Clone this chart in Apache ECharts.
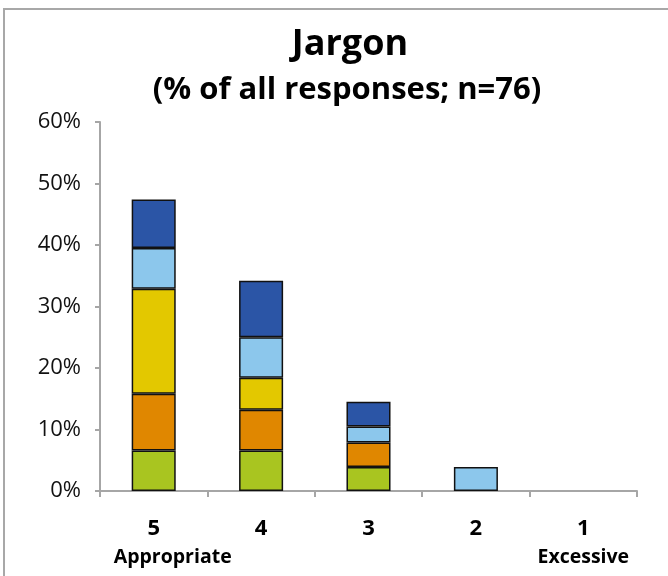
<!DOCTYPE html>
<html>
<head>
<meta charset="utf-8">
<script src="https://cdn.jsdelivr.net/npm/echarts@6/dist/echarts.min.js"></script>
<style>html,body{margin:0;padding:0;background:#fff}#c{width:668px;height:576px}</style>
</head>
<body>
<div id="c"></div>
<script>
var categories = ['5', '4', '3', '2', '1'];
var subLabels = ['Appropriate', '', '', '', 'Excessive'];
var yTicks = [0, 10, 20, 30, 40, 50, 60];
var green = [6.6, 6.6, 3.9, null, null];
var orange = [9.2, 6.6, 4.0, null, null];
var yellow = [17.1, 5.2, null, null, null];
var lightBlue = [6.6, 6.6, 2.6, 3.9, null];
var darkBlue = [7.9, 9.2, 4.0, null, null];

var colors = ['#a9c520', '#e08700', '#e3c800', '#8cc7ec', '#2b55a6'];
var seriesData = [green, orange, yellow, lightBlue, darkBlue];
var seriesNames = ['Green', 'Orange', 'Yellow', 'Light blue', 'Dark blue'];
var FONT = 'Open Sans';

var chart = echarts.init(document.getElementById('c'));
chart.setOption({
  animation: false,
  backgroundColor: '#fff',
  title: [
    {text: 'Jargon', left: 345, top: 22, textAlign: 'center',
     textStyle: {fontFamily: FONT, fontWeight: 'bold', fontSize: 36, color: '#000'}},
    {text: '(% of all responses; n=76)', left: 342, top: 70, textAlign: 'center',
     textStyle: {fontFamily: FONT, fontWeight: 'bold', fontSize: 31, color: '#000'}}
  ],
  graphic: [{
    type: 'polyline', silent: true,
    shape: {points: [[4, 590], [4, 9], [680, 9]]},
    style: {stroke: '#a8a8a8', lineWidth: 2, fill: null}
  }],
  grid: {left: 100, right: 31, top: 122, bottom: 85},
  xAxis: {
    type: 'category', data: categories,
    axisLine: {lineStyle: {color: '#a6a6a6', width: 2}},
    axisTick: {show: true, length: 6, lineStyle: {color: '#a6a6a6', width: 2}},
    axisLabel: {
      margin: 24, interval: 0,
      formatter: function (v, i) {
        var key = i === 0 ? 'sa' : 's';
        return '{n|' + v + '}' + (subLabels[i] ? '\n{' + key + '|' + subLabels[i] + '}' : '\n{s| }');
      },
      rich: {
        n: {fontFamily: FONT, fontWeight: 'bold', fontSize: 22, color: '#000', lineHeight: 28},
        s: {fontFamily: FONT, fontWeight: 'bold', fontSize: 19.5, color: '#000', lineHeight: 28},
        sa: {fontFamily: FONT, fontWeight: 'bold', fontSize: 19.5, color: '#000', lineHeight: 28, padding: [0, 0, 0, 38]}
      }
    }
  },
  yAxis: {
    type: 'value', min: yTicks[0], max: yTicks[yTicks.length - 1], interval: 10,
    splitLine: {show: false},
    axisLine: {show: true, lineStyle: {color: '#a6a6a6', width: 2}},
    axisTick: {show: true, length: 5, lineStyle: {color: '#a6a6a6', width: 2}},
    axisLabel: {formatter: '{value}%', margin: 19, fontFamily: FONT, fontSize: 22, color: '#111'}
  },
  series: seriesData.map(function (d, i) {
    return {
      name: seriesNames[i], type: 'bar', stack: 'all', data: d, barWidth: '41%',
      itemStyle: {color: colors[i], borderColor: '#111', borderWidth: 1.5}
    };
  })
});
</script>
</body>
</html>
